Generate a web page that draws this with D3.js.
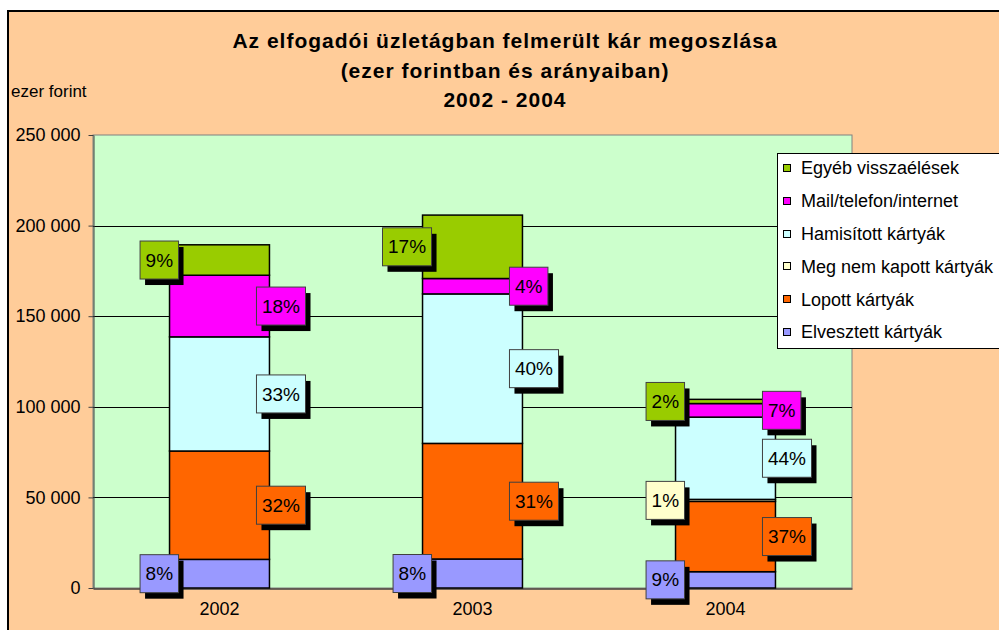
<!DOCTYPE html>
<html>
<head>
<meta charset="utf-8">
<script src="https://cdn.jsdelivr.net/npm/d3@7"></script>
<style>
  html, body { margin: 0; padding: 0; background: #ffffff; }
  svg { display: block; font-family: "Liberation Sans", Arial, sans-serif; }
</style>
</head>
<body>
<svg id="chart" width="999" height="630"></svg>
<script>
// ---- data ----
const years = ["2002", "2003", "2004"];
const seriesNames = ["Elvesztett kártyák", "Lopott kártyák", "Meg nem kapott kártyák",
                     "Hamisított kártyák", "Mail/telefon/internet", "Egyéb visszaélések"];
const elvesztett   = [15800, 16000, 9000];
const lopott       = [59800, 63800, 38800];
const megNemKapott = [0, 0, 1100];
const hamisitott   = [63000, 82500, 45400];
const mailTelefon  = [34000, 8500, 7500];
const egyeb        = [16800, 35000, 2300];
const yTicks = [0, 50000, 100000, 150000, 200000, 250000];
const titleLines = ["Az elfogadói üzletágban felmerült kár megoszlása",
                    "(ezer forintban és arányaiban)", "2002 - 2004"];
const yUnit = "ezer forint";

// ---- styling ----
const colors = ["#9999FF", "#FF6600", "#FFFFCC", "#CCFFFF", "#FF00FF", "#99CC00"];
const labelSide = ["left", "right", "left", "right", "right", "left"];

const seriesValues = [elvesztett, lopott, megNemKapott, hamisitott, mailTelefon, egyeb];
const table = years.map((y, i) => {
  const row = { year: y };
  seriesNames.forEach((s, k) => row[s] = seriesValues[k][i]);
  return row;
});

const svg = d3.select("#chart");

// chart area
svg.append("rect").attr("x", 8).attr("y", 11).attr("width", 1000).attr("height", 640)
  .attr("fill", "#FFCC99").attr("stroke", "#000").attr("stroke-width", 2);

const plot = { left: 93, right: 852, top: 135, bottom: 588 };

const x = d3.scaleBand().domain(years).range([plot.left, plot.right])
  .paddingInner(0.605).paddingOuter(0.3025);
const y = d3.scaleLinear().domain([0, 250000]).range([plot.bottom, plot.top]);

// plot area
svg.append("rect").attr("x", plot.left).attr("y", plot.top)
  .attr("width", plot.right - plot.left).attr("height", plot.bottom - plot.top)
  .attr("fill", "#CCFFCC").attr("stroke", "#808080").attr("stroke-width", 1);

// gridlines
svg.append("g").selectAll("line").data(yTicks.filter(t => t > 0 && t < 250000)).join("line")
  .attr("x1", plot.left).attr("x2", plot.right)
  .attr("y1", d => Math.round(y(d)) + 0.5).attr("y2", d => Math.round(y(d)) + 0.5)
  .attr("stroke", "#000").attr("stroke-width", 1);

// y axis
const fmt = d => d3.format(",")(d).replace(/,/g, " ");
const yAxis = svg.append("g").attr("transform", `translate(${plot.left + 0.5},0)`)
  .call(d3.axisLeft(y).tickValues(yTicks).tickFormat(fmt).tickSize(5).tickPadding(8).tickSizeOuter(0));
yAxis.select(".domain").attr("stroke", "#404040");
yAxis.selectAll(".tick line").attr("stroke", "#404040");
yAxis.selectAll("text").attr("font-size", 18).attr("fill", "#000")
  .attr("font-family", "Liberation Sans, Arial, sans-serif");

// x axis
const xAxis = svg.append("g").attr("transform", `translate(0,${plot.bottom + 0.5})`)
  .call(d3.axisBottom(x).tickSize(0).tickPadding(14));
xAxis.select(".domain").attr("stroke", "#404040").attr("stroke-width", 1.5);
xAxis.selectAll("text").attr("font-size", 18).attr("fill", "#000")
  .attr("font-family", "Liberation Sans, Arial, sans-serif");

// stacked bars
const stack = d3.stack().keys(seriesNames);
const stacked = stack(table);

const barG = svg.append("g");
stacked.forEach((layer, k) => {
  barG.selectAll(null).data(layer.filter(d => d[1] - d[0] > 0)).join("rect")
    .attr("x", d => x(d.data.year))
    .attr("width", x.bandwidth())
    .attr("y", d => y(d[1]))
    .attr("height", d => y(d[0]) - y(d[1]))
    .attr("fill", colors[k])
    .attr("stroke", "#000").attr("stroke-width", 1.5);
});

// data labels
const labG = svg.append("g");
const totals = years.map((yr, i) => d3.sum(seriesValues, s => s[i]));
stacked.forEach((layer, k) => {
  layer.forEach((d, i) => {
    const v = d[1] - d[0];
    if (v <= 0) return;
    const txt = Math.round(v / totals[i] * 100) + "%";
    const cy = (y(d[0]) + y(d[1])) / 2;
    const g = labG.append("g");
    const t = g.append("text").text(txt).attr("font-size", 19).attr("fill", "#000")
      .attr("text-anchor", "middle").attr("dy", "0.35em");
    const tw = t.node().getComputedTextLength();
    const w = tw + 11, h = 38;
    let bx;
    if (labelSide[k] === "right") bx = x(d.data.year) + x.bandwidth() - 13;
    else bx = x(d.data.year) + 9 - w;
    const by = cy - h / 2;
    g.insert("rect", "text").attr("x", bx + 5).attr("y", by + 6).attr("width", w).attr("height", h)
      .attr("fill", "#000");
    g.insert("rect", "text").attr("x", bx).attr("y", by).attr("width", w).attr("height", h)
      .attr("fill", colors[k]).attr("stroke", "#404040").attr("stroke-width", 1);
    t.attr("x", bx + w / 2).attr("y", cy);
  });
});

// title
const title = svg.append("g");
titleLines.forEach((line, i) => {
  title.append("text").text(line)
    .attr("x", 505).attr("y", [48, 78, 107][i])
    .attr("text-anchor", "middle").attr("font-size", 21).attr("font-weight", "bold")
    .attr("letter-spacing", 1).attr("fill", "#000");
});

// y unit label
svg.append("text").text(yUnit).attr("x", 11).attr("y", 97)
  .attr("font-size", 17).attr("fill", "#000");

// legend
const leg = svg.append("g");
leg.append("rect").attr("x", 777.5).attr("y", 153.5).attr("width", 240).attr("height", 195)
  .attr("fill", "#fff").attr("stroke", "#000").attr("stroke-width", 1);
const legOrder = d3.range(seriesNames.length).reverse();
legOrder.forEach((k, j) => {
  const cy = 168 + j * 32.8;
  leg.append("rect").attr("x", 783.5).attr("y", Math.round(cy) - 3.5).attr("width", 7).attr("height", 7)
    .attr("fill", colors[k]).attr("stroke", "#000").attr("stroke-width", 1);
  leg.append("text").text(seriesNames[k]).attr("x", 801).attr("y", cy).attr("dy", "0.35em")
    .attr("font-size", 18).attr("fill", "#000");
});
</script>
</body>
</html>
